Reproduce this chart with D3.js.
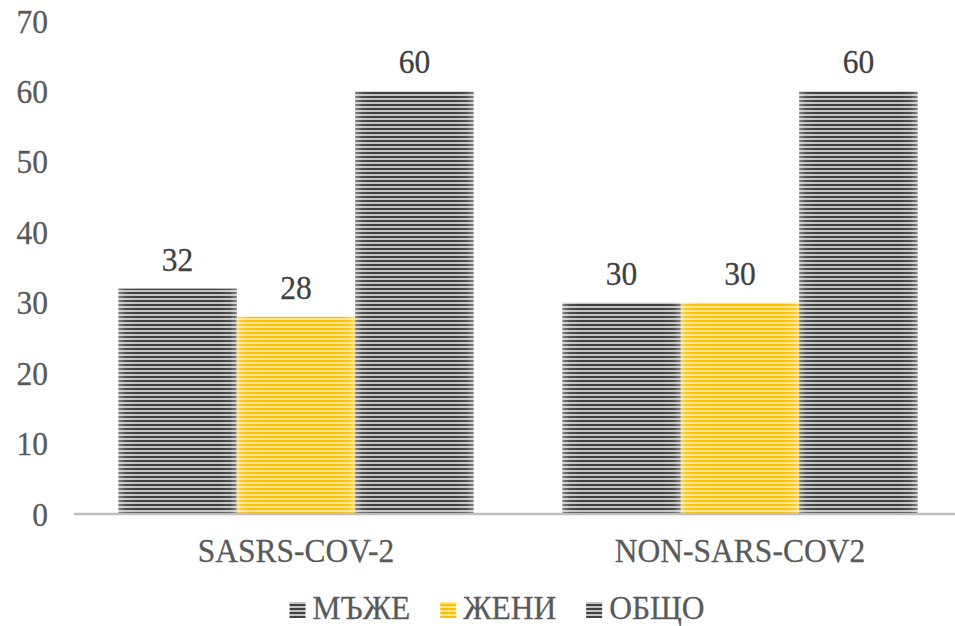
<!DOCTYPE html>
<html><head><meta charset="utf-8">
<script src="https://cdn.jsdelivr.net/npm/d3@7"></script>
<style>body{margin:0;background:#fff}svg{display:block}
svg text{font-family:"Liberation Serif","Times New Roman",Times,Tinos,"DejaVu Serif",serif;}</style>
</head><body>
<svg id="c" width="955" height="626"></svg>
<script>
const categories = ["SASRS-COV-2", "NON-SARS-COV2"];
const seriesNames = ["МЪЖЕ", "ЖЕНИ", "ОБЩО"];
const men = [32, 30];
const women = [28, 30];
const total = [60, 60];
const yTicks = [0, 10, 20, 30, 40, 50, 60, 70];

const seriesValues = [men, women, total];
const seriesColors = [
  {dark: "#404040", light: "#c4c4c4"},
  {dark: "#ffc000", light: "#ffe48f"},
  {dark: "#404040", light: "#c4c4c4"}
];

const svg = d3.select("#c");
const defs = svg.append("defs");
const FS = 31.5;

function label(parent, x, y, txt, anchor, color, sy = 1.1) {
  return parent.append("text")
    .attr("transform", `translate(${x},${y}) scale(1,${sy})`)
    .attr("text-anchor", anchor).attr("font-size", FS)
    .attr("fill", color).attr("stroke", color).attr("stroke-width", 0.25)
    .text(txt);
}

seriesColors.forEach((c, i) => {
  const p = defs.append("pattern").attr("id", "pat" + i)
    .attr("patternUnits", "userSpaceOnUse").attr("width", 8).attr("height", 4);
  p.append("rect").attr("width", 8).attr("height", 4).attr("fill", c.light);
  p.append("rect").attr("width", 8).attr("height", 2).attr("fill", c.dark);
});
const g = defs.append("linearGradient").attr("id", "shine").attr("x1", 0).attr("x2", 1).attr("y1", 0).attr("y2", 0);
[[0, 0.35], [0.06, 0.08], [0.15, 0], [0.85, 0], [0.94, 0.08], [1, 0.35]].forEach(([o, a]) =>
  g.append("stop").attr("offset", o).attr("stop-color", "#fff").attr("stop-opacity", a));

const x0 = d3.scaleBand().domain(categories).range([74, 962]).paddingInner(0.2).paddingOuter(0.1);
const x1 = d3.scaleBand().domain(seriesNames).range([0, x0.bandwidth()]);
const y = d3.scaleLinear().domain([0, 70]).range([514, 21]);

// y tick labels
const yg = svg.append("g");
yTicks.forEach(t => label(yg, 48, y(t) + 11.5, t, "end", "#595959"));

// bars
const groups = svg.append("g").selectAll("g").data(categories).join("g")
  .attr("transform", d => `translate(${x0(d)},0)`);
groups.each(function(cat, ci) {
  const gg = d3.select(this);
  seriesNames.forEach((s, si) => {
    const v = seriesValues[si][ci];
    gg.append("rect").attr("x", x1(s)).attr("y", y(v)).attr("width", x1.bandwidth())
      .attr("height", y(0) - y(v)).attr("fill", `url(#pat${si})`);
    gg.append("rect").attr("x", x1(s)).attr("y", y(v)).attr("width", x1.bandwidth())
      .attr("height", y(0) - y(v)).attr("fill", "url(#shine)");
    label(gg, x1(s) + x1.bandwidth() / 2, y(v) - 18, v, "middle", "#404040");
  });
});

// x axis line
svg.append("line").attr("x1", 74).attr("x2", 962).attr("y1", y(0)).attr("y2", y(0))
  .attr("stroke", "#bfbfbf").attr("stroke-width", 2.5);

// category labels
const cg = svg.append("g");
categories.forEach(c => label(cg, x0(c) + x0.bandwidth() / 2, 562, c, "middle", "#595959"));

// legend
const leg = svg.append("g");
const items = leg.selectAll("g").data(seriesNames).join("g");
items.append("rect").attr("x", 0).attr("y", 602).attr("width", 16).attr("height", 16)
  .attr("fill", (d, i) => `url(#pat${i})`);
items.each(function(d) { label(d3.select(this), 23, 619, d, "start", "#595959", 1.05); });
const widths = [];
items.each(function() { widths.push(23 + d3.select(this).select("text").node().getComputedTextLength()); });
const gap = 30;
const totalW = d3.sum(widths) + gap * (widths.length - 1);
let start = 497 - totalW / 2;
items.attr("transform", (d, i) => { const t = `translate(${start},0)`; start += widths[i] + gap; return t; });
</script>
</body></html>
